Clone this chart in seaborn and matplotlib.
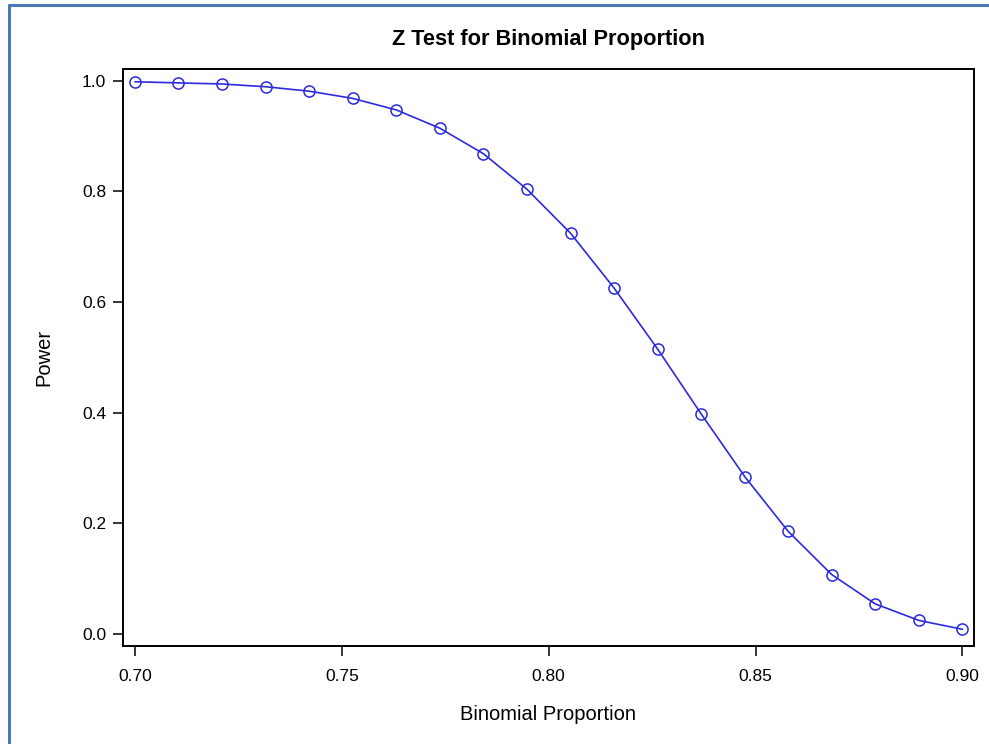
import numpy as np
import pandas as pd
import matplotlib
matplotlib.use("Agg")
import matplotlib.pyplot as plt
import seaborn as sns
from matplotlib.lines import Line2D

# Data
proportion = [0.7000, 0.7105, 0.7211, 0.7316, 0.7421, 0.7526, 0.7632, 0.7737,
              0.7842, 0.7947, 0.8053, 0.8158, 0.8263, 0.8368, 0.8474, 0.8579,
              0.8684, 0.8789, 0.8895, 0.9000]
power = [0.998, 0.996, 0.994, 0.989, 0.981, 0.968, 0.947, 0.914,
         0.868, 0.804, 0.724, 0.625, 0.515, 0.398, 0.284, 0.185,
         0.107, 0.054, 0.024, 0.008]
xticks = [0.70, 0.75, 0.80, 0.85, 0.90]
yticks = [0.0, 0.2, 0.4, 0.6, 0.8, 1.0]

title = "Z Test for Binomial Proportion"
xlabel = "Binomial Proportion"
ylabel = "Power"

sns.set_theme(style="ticks")
plt.rcParams["font.family"] = ["Liberation Sans", "DejaVu Sans"]

df = pd.DataFrame({"x": proportion, "y": power})

fig = plt.figure(figsize=(9.89, 7.44), dpi=100)
ax = fig.add_axes([123/989, 1 - 646/744, (974 - 123)/989, (646 - 69)/744])

color = "#2b2bdc"
sns.lineplot(data=df, x="x", y="y", ax=ax, color=color, linewidth=1.2,
             marker="o", markersize=8, markerfacecolor="none",
             markeredgecolor=color, markeredgewidth=1.1)

ax.set_xlim(0.6971, 0.9028)
ax.set_ylim(-0.0222, 1.0211)
ax.set_xticks(xticks)
ax.set_xticklabels([f"{v:.2f}" for v in xticks])
ax.set_yticks(yticks)
ax.set_yticklabels([f"{v:.1f}" for v in yticks])

for s in ax.spines.values():
    s.set_visible(True)
    s.set_color("black")
    s.set_linewidth(1.4)

ax.tick_params(axis="both", direction="out", length=7, width=1.1,
               color="black", labelsize=12.5, labelcolor="black")
ax.tick_params(axis="x", pad=9.5)
ax.tick_params(axis="y", pad=5)

ax.set_xlabel(xlabel, fontsize=14.5, color="black", labelpad=15)
ax.set_ylabel(ylabel, fontsize=14.5, color="black", labelpad=21)
ax.set_title(title, fontsize=15.7, fontweight="bold", color="black", pad=17.5)

# figure border (left and top)
bc = "#4a78b5"
fig.add_artist(Line2D([9/989, 9/989], [0, 1 - 5/744], transform=fig.transFigure,
                      color=bc, linewidth=2.2))
fig.add_artist(Line2D([9/989, 1], [1 - 5/744, 1 - 5/744], transform=fig.transFigure,
                      color=bc, linewidth=2.2))

fig.savefig("out.png", dpi=100, facecolor="white")
